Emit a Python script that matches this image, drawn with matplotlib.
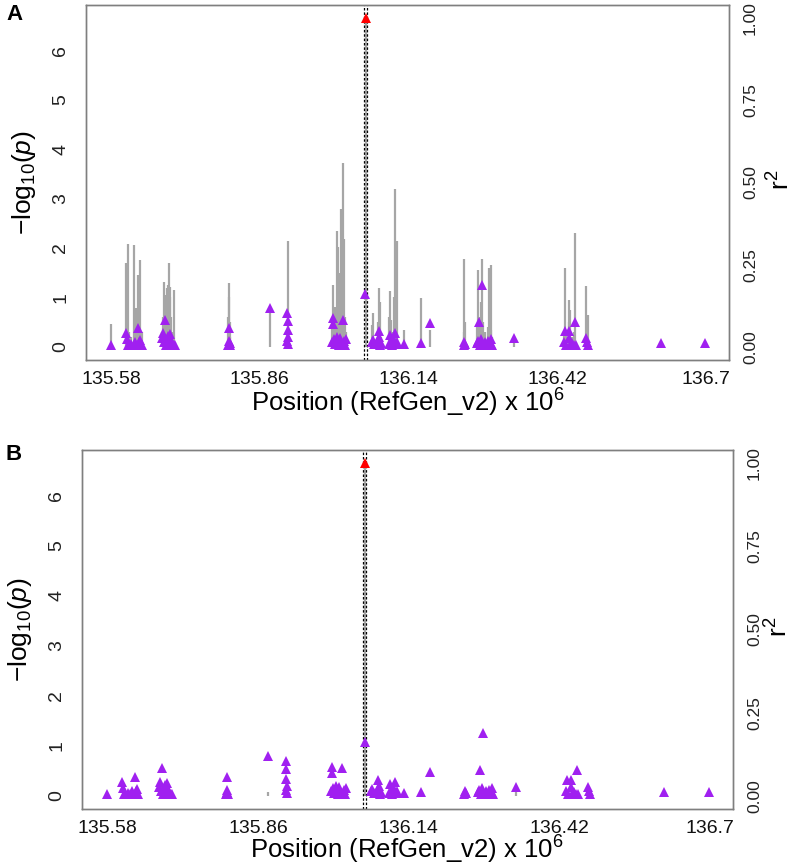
import matplotlib
matplotlib.use("Agg")
import matplotlib.pyplot as plt

plt.rcParams['font.family'] = ['Liberation Sans', 'DejaVu Sans']
plt.rcParams['mathtext.fontset'] = 'custom'
plt.rcParams['mathtext.rm'] = 'Liberation Sans'
plt.rcParams['mathtext.it'] = 'Liberation Sans:italic'

# SNP positions (Mb, RefGen_v2)
positions = [135.5794,
             135.6082, 135.6096, 135.6114, 135.6133, 135.6176, 135.6227, 135.6252, 135.6271,
             135.6314, 135.6333, 135.6355, 135.6378,
             135.6754, 135.6773, 135.6792, 135.6811, 135.6830, 135.6848, 135.6867, 135.6886,
             135.6905, 135.6916, 135.6935, 135.6954, 135.6980, 135.7005,
             135.8008, 135.8016, 135.8027, 135.8034, 135.8046,
             135.8787,
             135.9119, 135.9126, 135.9126, 135.9132, 135.9119, 135.9137,
             135.9954, 135.9973, 135.9985, 136.0003, 136.0022, 136.0048, 136.0067, 136.0086,
             136.0105, 136.0124, 136.0143, 136.0167, 136.0192, 136.0210, 136.0229,
             136.0587, 136.0590,
             136.0707, 136.0726, 136.0751, 136.0820, 136.0839, 136.0850, 136.0864, 136.0882,
             136.1027, 136.1052, 136.1071, 136.1095, 136.1133, 136.1152, 136.1170, 136.1189,
             136.1321, 136.1635, 136.1805,
             136.2439, 136.2450, 136.2464,
             136.2695, 136.2708, 136.2721, 136.2746, 136.2770, 136.2789, 136.2808, 136.2840,
             136.2902, 136.2921, 136.2947, 136.2959, 136.2972,
             136.3392,
             136.4321, 136.4340, 136.4359, 136.4416, 136.4427, 136.4446, 136.4478, 136.4515,
             136.4534, 136.4553, 136.4741, 136.4760, 136.4773,
             136.6153, 136.6987]

# -log10(p), panel A
logp_A = [0.47,
          1.70, 0.75, 2.08, 0.30, 0.20, 2.06, 0.50, 0.79,
          1.46, 1.00, 1.76, 0.30,
          0.30, 0.60, 1.32, 0.90, 1.05, 1.19, 1.25, 1.70,
          1.00, 1.21, 0.60, 0.30, 1.15, 0.10,
          0.60, 1.00, 1.29, 0.50, 0.20,
          0.75,
          0.30, 2.15, 0.50, 0.20, 0.10, 0.10,
          0.40, 1.25, 0.30, 0.50, 0.80, 2.35, 2.03, 0.90,
          1.50, 2.78, 1.20, 3.71, 2.18, 0.60, 0.30,
          0.00, 6.65,
          0.45, 0.68, 0.10, 0.50, 1.19, 0.30, 0.90, 0.20,
          0.60, 1.14, 0.55, 0.30, 1.00, 3.19, 0.60, 2.14,
          0.34, 0.98, 0.34,
          0.30, 1.77, 0.50,
          0.40, 1.56, 0.60, 0.30, 0.90, 1.77, 0.50, 0.30,
          0.40, 1.59, 1.66, 0.35, 0.20,
          0.08,
          0.30, 1.59, 0.30, 0.50, 0.95, 0.75, 0.20, 0.30,
          2.30, 0.10, 1.24, 0.20, 0.65,
          0.02, 0.10]

# -log10(p), panel B
logp_B = [0.00,
          0.00, 0.00, 0.00, 0.00, 0.00, 0.00, 0.00, 0.00,
          0.00, 0.00, 0.00, 0.00,
          0.00, 0.00, 0.00, 0.00, 0.00, 0.00, 0.00, 0.00,
          0.00, 0.00, 0.00, 0.00, 0.00, 0.00,
          0.00, 0.00, 0.00, 0.00, 0.00,
          0.08,
          0.00, 0.00, 0.00, 0.00, 0.00, 0.00,
          0.00, 0.00, 0.00, 0.00, 0.00, 0.00, 0.00, 0.00,
          0.00, 0.00, 0.00, 0.00, 0.00, 0.00, 0.00,
          0.00, 6.65,
          0.00, 0.08, 0.00, 0.00, 0.00, 0.00, 0.00, 0.00,
          0.00, 0.00, 0.00, 0.00, 0.00, 0.00, 0.00, 0.00,
          0.00, 0.08, 0.00,
          0.00, 0.00, 0.00,
          0.00, 0.00, 0.00, 0.00, 0.00, 0.00, 0.00, 0.00,
          0.00, 0.00, 0.00, 0.00, 0.00,
          0.08,
          0.00, 0.00, 0.00, 0.00, 0.00, 0.00, 0.00, 0.00,
          0.00, 0.00, 0.00, 0.00, 0.00,
          0.00, 0.00]

# LD r^2 with the lead SNP
r2 = [0.006,
      0.042, 0.024, 0.006, 0.006, 0.009, 0.006, 0.015, 0.006,
      0.057, 0.015, 0.021, 0.006,
      0.027, 0.042, 0.015, 0.083, 0.006, 0.021, 0.032, 0.006,
      0.012, 0.038, 0.006, 0.015, 0.006, 0.006,
      0.006, 0.018, 0.057, 0.012, 0.006,
      0.119,
      0.104, 0.080, 0.051, 0.030, 0.018, 0.008,
      0.015, 0.087, 0.069, 0.023, 0.008, 0.030, 0.015, 0.006,
      0.027, 0.012, 0.006, 0.083, 0.018, 0.006, 0.023,
      0.162, 1.000,
      0.015, 0.021, 0.009, 0.015, 0.047, 0.030, 0.006, 0.012,
      0.008, 0.036, 0.015, 0.006, 0.021, 0.042, 0.009, 0.015,
      0.009, 0.012, 0.072,
      0.006, 0.015, 0.009,
      0.012, 0.018, 0.077, 0.006, 0.023, 0.188, 0.006, 0.015,
      0.018, 0.006, 0.024, 0.009, 0.006,
      0.026,
      0.015, 0.047, 0.006, 0.027, 0.047, 0.006, 0.012, 0.006,
      0.077, 0.006, 0.026, 0.015, 0.006,
      0.011, 0.011]

window_bounds = [136.0562, 136.0612]

x_ticks = [135.58, 135.86, 136.14, 136.42, 136.70]
x_ticklabels = ['135.58', '135.86', '136.14', '136.42', '136.7']
y_ticks = [0, 1, 2, 3, 4, 5, 6]
r2_ticks = [0.0, 0.25, 0.5, 0.75, 1.0]
r2_ticklabels = ['0.00', '0.25', '0.50', '0.75', '1.00']

ymax = 6.65
YLIM = (-0.04 * ymax, 1.04 * ymax)
XLIM = (135.533, 136.743)

W, H = 797, 866
fig = plt.figure(figsize=(W / 100, H / 100), dpi=100)

PURPLE = '#A020F0'
GRAY = '#A6A6A6'
BOX = '#7F7F7F'


def panel(rect, logp, letter, letter_xy, ylab_xy, xlab_xy, r2lab_xy):
    ax = fig.add_axes(rect)
    ax.vlines(positions, 0, logp, colors=GRAY, linewidth=1.6, zorder=1)
    for b in window_bounds:
        ax.axvline(b, color='black', linewidth=0.9, linestyle=(0, (2.0, 1.5)), zorder=2)
    ax.set_xlim(*XLIM)
    ax.set_ylim(*YLIM)
    ax.set_xticks(x_ticks)
    ax.set_xticklabels(x_ticklabels)
    ax.set_yticks(y_ticks)
    ax.set_yticklabels([str(v) for v in y_ticks], rotation=90, va='center')
    ax.tick_params(axis='x', length=0, pad=8, labelsize=14, colors='#111111')
    ax.tick_params(axis='y', length=0, pad=12, labelsize=14, colors='#222222')
    for s in ax.spines.values():
        s.set_color(BOX)
        s.set_linewidth(1.0)

    ax2 = ax.twinx()
    ax2.set_ylim(YLIM[0] / ymax, YLIM[1] / ymax)
    ax2.set_xlim(*XLIM)
    lead_mask = [v >= 0.999 for v in r2]
    px = [p for p, m in zip(positions, lead_mask) if not m]
    py = [v for v, m in zip(r2, lead_mask) if not m]
    lx = [p for p, m in zip(positions, lead_mask) if m]
    ly = [v for v, m in zip(r2, lead_mask) if m]
    ax2.plot(px, py, linestyle='none', marker='^', markersize=7, color=PURPLE,
             markeredgewidth=0, zorder=3)
    ax2.plot(lx, ly, linestyle='none', marker='^', markersize=7, color='#FF0000',
             markeredgewidth=0, zorder=4)
    ax2.set_yticks(r2_ticks)
    ax2.set_yticklabels(r2_ticklabels, rotation=90, va='center')
    ax2.tick_params(axis='y', length=0, pad=10, labelsize=12.5, colors='#222222')
    for s in ax2.spines.values():
        s.set_color(BOX)
        s.set_linewidth(1.0)

    fig.text(letter_xy[0], letter_xy[1], letter, fontsize=16, fontweight='bold',
             ha='center', va='center')
    fig.text(ylab_xy[0], ylab_xy[1], r'$-\mathrm{log}_{10}(p)$', fontsize=19,
             rotation=90, ha='center', va='center')
    fig.text(xlab_xy[0], xlab_xy[1], r'Position (RefGen_v2) x 10$^{6}$', fontsize=18.5,
             ha='center', va='center')
    fig.text(r2lab_xy[0], r2lab_xy[1], r'r$^{2}$', fontsize=19,
             rotation=90, ha='center', va='center')
    return ax, ax2


panel([86 / W, 1 - 360 / H, (729 - 86) / W, 355 / H], logp_A, 'A',
      (15 / W, 1 - 15 / H), (24 / W, 1 - 183 / H), (408 / W, 1 - 403 / H),
      (781 / W, 1 - 180 / H))
panel([82 / W, 1 - 809 / H, (733 - 82) / W, 359 / H], logp_B, 'B',
      (14 / W, 1 - 455 / H), (20 / W, 1 - 630 / H), (407 / W, 1 - 850 / H),
      (779 / W, 1 - 627 / H))

fig.savefig('out.png', dpi=100)
